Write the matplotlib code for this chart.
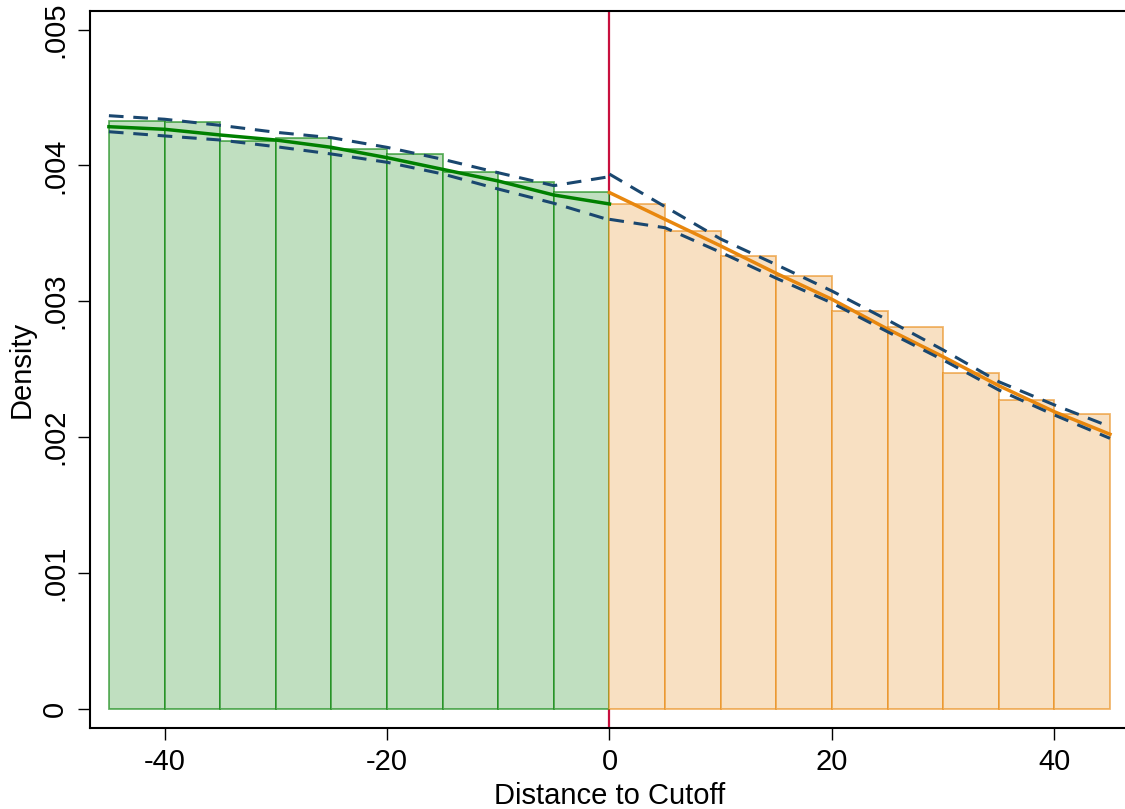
import matplotlib
matplotlib.use("Agg")
import matplotlib.pyplot as plt

plt.rcParams["font.family"] = ["Liberation Sans", "DejaVu Sans"]

# histogram, bins of width 5 either side of the cutoff
left_bins = [-45, -40, -35, -30, -25, -20, -15, -10, -5]
left_heights = [0.004329, 0.004317, 0.004182, 0.004204, 0.004123,
                0.004082, 0.003951, 0.003876, 0.003802]
right_bins = [0, 5, 10, 15, 20, 25, 30, 35, 40]
right_heights = [0.003714, 0.003519, 0.003331, 0.003188, 0.002930,
                 0.002808, 0.002469, 0.002270, 0.002167]

# local polynomial density fit with confidence bands
left_x = [-45, -40, -35, -30, -25, -20, -15, -10, -5, 0]
left_fit = [0.004285, 0.004266, 0.004224, 0.004187, 0.004133,
            0.004057, 0.003971, 0.003885, 0.003782, 0.003716]
left_hi = [0.004366, 0.004340, 0.004295, 0.004244, 0.004204,
           0.004133, 0.004045, 0.003946, 0.003851, 0.003917]
left_lo = [0.004248, 0.004217, 0.004187, 0.004138, 0.004084,
           0.004023, 0.003937, 0.003826, 0.003721, 0.003598]

right_x = [0, 5, 10, 15, 20, 25, 30, 35, 40, 45]
right_fit = [0.003800, 0.003603, 0.003407, 0.003205, 0.003014,
             0.002795, 0.002591, 0.002378, 0.002186, 0.002020]
right_hi = [0.003936, 0.003696, 0.003458, 0.003269, 0.003075,
            0.002862, 0.002641, 0.002407, 0.002236, 0.002076]
right_lo = [0.003603, 0.003541, 0.003360, 0.003169, 0.002987,
            0.002775, 0.002567, 0.002346, 0.002162, 0.001990]

yticks = [0, 0.001, 0.002, 0.003, 0.004, 0.005]
ytick_labels = ["0", ".001", ".002", ".003", ".004", ".005"]
xticks = [-40, -20, 0, 20, 40]

green = "#008000"
orange = "#e8870e"
navy = "#1a476f"

fig = plt.figure(figsize=(11.25, 8.09), dpi=100)
ax = fig.add_axes([90 / 1125, (809 - 728) / 809, 1040 / 1125, (728 - 11) / 809])

ax.axvline(0, color="#c8103e", lw=1.6, zorder=1)

ax.bar(left_bins, left_heights, width=5, align="edge",
       facecolor="#c0dfc0", edgecolor=(0, 0.5, 0, 0.6), lw=1.3, zorder=2)
ax.bar(right_bins, right_heights, width=5, align="edge",
       facecolor="#f8e0c2", edgecolor=(0.91, 0.53, 0.05, 0.6), lw=1.3, zorder=2)

ax.plot(left_x, left_fit, color=green, lw=2.5, zorder=3)
ax.plot(right_x, right_fit, color=orange, lw=2.5, zorder=3)

for xs, ys in [(left_x, left_hi), (left_x, left_lo), (right_x, right_hi), (right_x, right_lo)]:
    ax.plot(xs, ys, color=navy, lw=2.2, dashes=(4.8, 3.2), zorder=4)

ax.set_xlim(-46.7, 46.8)
ax.set_ylim(-0.000143, 0.005137)

ax.set_xticks(xticks)
ax.set_xticklabels([str(t) for t in xticks])
ax.set_yticks(yticks)
ax.set_yticklabels(ytick_labels, rotation=90, va="center")

ax.tick_params(axis="both", direction="out", length=8.6, width=1.0,
               labelsize=21, colors="black")
ax.tick_params(axis="x", pad=5.5)
ax.tick_params(axis="y", pad=6.5)

for side in ["left", "top", "bottom"]:
    ax.spines[side].set_linewidth(1.5)
ax.spines["right"].set_visible(False)

ax.set_xlabel("Distance to Cutoff", fontsize=21, labelpad=4.5)
ax.set_ylabel("Density", fontsize=21)
ax.yaxis.set_label_coords(-0.052, 0.5)

fig.savefig("out.png", dpi=100)
